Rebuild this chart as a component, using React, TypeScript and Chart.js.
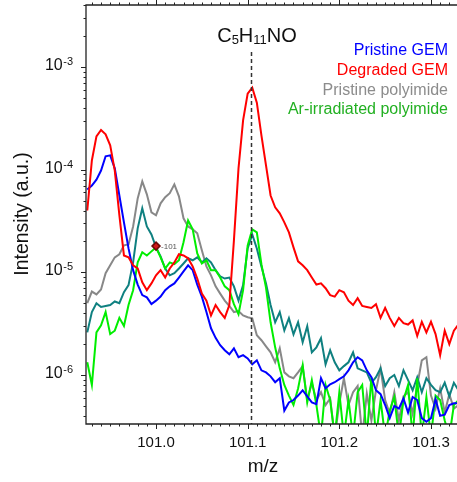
import React, { useEffect, useRef } from 'react';
import { Chart, registerables } from 'chart.js';

Chart.register(...registerables);

// m/z grid (shared by all series)
const MZ = [
  100.925, 100.930, 100.935, 100.940, 100.945, 100.950, 100.955, 100.960, 100.965, 100.970,
  100.975, 100.980, 100.985, 100.990, 100.995, 101.000, 101.005, 101.010, 101.015, 101.020,
  101.025, 101.030, 101.035, 101.040, 101.045, 101.050, 101.055, 101.060, 101.065, 101.070,
  101.075, 101.080, 101.085, 101.090, 101.095, 101.100, 101.105, 101.110, 101.115, 101.120,
  101.125, 101.130, 101.135, 101.140, 101.145, 101.150, 101.155, 101.160, 101.165, 101.170,
  101.175, 101.180, 101.185, 101.190, 101.195, 101.200, 101.205, 101.210, 101.215, 101.220,
  101.225, 101.230, 101.235, 101.240, 101.245, 101.250, 101.255, 101.260, 101.265, 101.270,
  101.275, 101.280, 101.285, 101.290, 101.295, 101.300, 101.305, 101.310, 101.315, 101.320,
  101.325, 101.330,
];

const PRISTINE_GEM = [
  6.4e-5, 7.0e-5, 8.0e-5, 9.8e-5, 1.35e-4, 1.38e-4, 1.03e-4, 5.6e-5, 3.07e-5, 1.71e-5,
  1.05e-5, 7.6e-6, 6.0e-6, 5.7e-6, 4.9e-6, 5.3e-6, 5.8e-6, 6.7e-6, 7.3e-6, 7.8e-6,
  8.9e-6, 1.02e-5, 1.17e-5, 1.05e-5, 7.6e-6, 5.8e-6, 4.1e-6, 2.85e-6, 2.3e-6, 1.95e-6,
  1.74e-6, 1.59e-6, 1.82e-6, 1.49e-6, 1.56e-6, 1.45e-6, 1.27e-6, 1.39e-6, 1.11e-6, 1.06e-6,
  9.7e-7, 8.5e-7, 9.3e-7, 4.5e-7, 5.4e-7, 5.7e-7, 6.3e-7, 7.1e-7, 6.2e-7, 5.4e-7,
  5.2e-7, 9.3e-7, 7.4e-7, 8.1e-7, 8.5e-7, 9.1e-7, 9.7e-7, 1.11e-6, 1.33e-6, 1.49e-6,
  1.39e-6, 1.11e-6, 9.5e-7, 7.1e-7, 6.5e-7, 5.1e-7, 3.8e-7, 5.0e-7, 4.7e-7, 5.9e-7,
  4.3e-7, 6.1e-7, 5.7e-7, 3.8e-7, 3.5e-7, 3.8e-7, 5.8e-7, 4.0e-7, 4.1e-7, 5.1e-7,
  5.3e-7, 5.3e-7,
];

const DEGRADED_GEM = [
  4.0e-5, 1.23e-4, 2.11e-4, 2.44e-4, 2.21e-4, 1.73e-4, 9.8e-5, 3.6e-5, 1.46e-5, 1.40e-5,
  1.17e-5, 1.09e-5, 8.0e-6, 6.7e-6, 7.8e-6, 9.35e-6, 1.05e-5, 8.9e-6, 1.09e-5, 1.25e-5,
  1.50e-5, 1.46e-5, 1.37e-5, 1.14e-5, 8.7e-6, 6.2e-6, 5.3e-6, 3.8e-6, 4.8e-6, 4.1e-6,
  3.6e-6, 4.8e-6, 2.05e-5, 1.03e-4, 3.02e-4, 5.5e-4, 6.3e-4, 4.5e-4, 2.16e-4, 1.10e-4,
  5.6e-5, 4.3e-5, 3.75e-5, 3.07e-5, 2.45e-5, 1.75e-5, 1.28e-5, 1.17e-5, 1.05e-5, 8.9e-6,
  7.6e-6, 7.8e-6, 7.0e-6, 6.0e-6, 5.8e-6, 6.7e-6, 6.4e-6, 5.3e-6, 4.8e-6, 5.6e-6,
  4.7e-6, 4.6e-6, 4.5e-6, 4.9e-6, 3.6e-6, 4.5e-6, 3.6e-6, 3.0e-6, 3.6e-6, 3.2e-6,
  3.1e-6, 3.4e-6, 2.4e-6, 3.3e-6, 2.6e-6, 3.3e-6, 2.5e-6, 1.56e-6, 2.7e-6, 2.0e-6,
  2.7e-6, 3.1e-6,
];

const PRISTINE_PI = [
  5.0e-6, 6.5e-6, 6.1e-6, 6.8e-6, 9.8e-6, 1.17e-5, 1.40e-5, 1.50e-5, 1.83e-5, 1.87e-5,
  2.8e-5, 5.25e-5, 7.7e-5, 5.75e-5, 3.84e-5, 3.6e-5, 4.7e-5, 5.4e-5, 5.9e-5, 7.2e-5,
  5.5e-5, 3.36e-5, 2.8e-5, 2.62e-5, 2.4e-5, 1.64e-5, 1.14e-5, 9.35e-6, 7.3e-6, 6.2e-6,
  5.3e-6, 4.7e-6, 4.1e-6, 4.2e-6, 3.8e-6, 3.65e-6, 3.57e-6, 2.44e-6, 2.18e-6, 1.9e-6,
  1.66e-6, 1.33e-6, 1.82e-6, 1.06e-6, 9.7e-7, 9.3e-7, 1.06e-6, 1.22e-6, 5.7e-7, 8.3e-7,
  5.7e-7, 6.8e-7, 5.1e-7, 5.9e-7, 2.5e-7, 5.3e-7, 9.3e-7, 5.1e-7, 6.8e-7, 7.8e-7,
  2.5e-7, 6.6e-7, 3.6e-7, 7.1e-7, 1.16e-6, 5.7e-7, 4.2e-7, 6.8e-7, 3.6e-7, 6.2e-7,
  6.8e-7, 4.2e-7, 7.9e-7, 1.39e-6, 1.49e-6, 6.3e-7, 4.7e-7, 7.4e-7, 4.3e-7, 6.5e-7,
  4.7e-7, 5.1e-7,
];

const AR_IRRADIATED_PI = [
  1.33e-6, 8.0e-7, 2.6e-6, 3.05e-6, 4.1e-6, 2.5e-6, 2.7e-6, 3.6e-6, 3.0e-6, 4.8e-6,
  6.7e-6, 1.25e-5, 1.57e-5, 1.46e-5, 1.6e-5, 1.75e-5, 1.40e-5, 1.09e-5, 1.25e-5, 1.2e-5,
  1.31e-5, 1.96e-5, 3.2e-5, 2.62e-5, 1.53e-5, 1.22e-5, 1.31e-5, 1.05e-5, 1.05e-5, 8.9e-6,
  7.3e-6, 6.7e-6, 4.9e-6, 3.9e-6, 6.7e-6, 1.83e-5, 2.62e-5, 2.45e-5, 1.2e-5, 7.1e-6,
  3.26e-6, 1.86e-6, 1.16e-6, 8.0e-7, 6.3e-7, 5.1e-7, 7.4e-7, 1.24e-6, 5.4e-7, 8.9e-7,
  5.1e-7, 2.5e-7, 8.0e-7, 5.7e-7, 2.5e-7, 6.8e-7, 2.5e-7, 5.7e-7, 2.5e-7, 6.8e-7,
  8.0e-7, 2.5e-7, 9.5e-7, 2.5e-7, 5.7e-7, 2.5e-7, 4.5e-7, 6.1e-7, 2.5e-7, 5.7e-7,
  8.0e-7, 2.5e-7, 9.3e-7, 2.5e-7, 6.1e-7, 2.5e-7, 6.3e-7, 5.7e-7, 3.6e-7, 2.5e-7,
  5.1e-7, 5.7e-7,
];

// unlabeled teal trace
const TEAL_SERIES = [
  2.6e-6, 4.1e-6, 5.0e-6, 4.6e-6, 4.7e-6, 4.8e-6, 5.2e-6, 5.0e-6, 6.4e-6, 7.5e-6,
  1.25e-5, 2.68e-5, 4.2e-5, 2.8e-5, 2.34e-5, 1.75e-5, 1.43e-5, 1.09e-5, 9.35e-6, 9.8e-6,
  1.09e-5, 1.22e-5, 1.37e-5, 1.31e-5, 1.40e-5, 1.25e-5, 1.37e-5, 1.25e-5, 1.05e-5, 9.15e-6,
  8.7e-6, 8.9e-6, 7.3e-6, 5.3e-6, 7.5e-6, 1.71e-5, 2.34e-5, 1.71e-5, 1.14e-5, 7.8e-6,
  4.8e-6, 3.26e-6, 4.1e-6, 2.72e-6, 3.57e-6, 2.49e-6, 3.26e-6, 2.08e-6, 2.98e-6, 1.66e-6,
  1.86e-6, 2.28e-6, 1.27e-6, 1.74e-6, 1.33e-6, 1.11e-6, 1.22e-6, 1.33e-6, 1.66e-6, 1.16e-6,
  1.11e-6, 1.06e-6, 8.4e-7, 9.5e-7, 1.16e-6, 7.8e-7, 9.3e-7, 1.0e-6, 7.8e-7, 1.11e-6,
  8.9e-7, 7.1e-7, 9.5e-7, 6.8e-7, 9.3e-7, 8.0e-7, 7.1e-7, 6.8e-7, 8.4e-7, 6.2e-7,
  8.4e-7, 7.1e-7,
];

const SERIES_NAMES = ['Pristine GEM', 'Degraded GEM', 'Pristine polyimide', 'Ar-irradiated polyimide'];
const LEGEND_COLORS = ['#0000ff', '#ff0000', '#8c8c8c', '#22b022'];

const X_TICKS = [101.0, 101.1, 101.2, 101.3];
const X_TICK_LABELS = ['101.0', '101.1', '101.2', '101.3'];
const Y_TICKS = [1e-6, 1e-5, 1e-4, 1e-3];
const Y_TICK_EXPONENTS = ['-6', '-5', '-4', '-3'];

const X_MIN = 100.9236;
const X_MAX = 101.3284;
const Y_MIN = 3.33e-7;
const Y_MAX = 4.02e-3;

const PEAK_MZ = [101.104];
const MARK_X = [101.0];
const MARK_Y = [1.8e-5];
const MARK_LABEL = ['101'];

const FONT = '"Liberation Sans", Arial, sans-serif';

const toXY = (ys: number[]) => ys.map((y, i) => ({ x: MZ[i], y }));

const decorPlugin = {
  id: 'decor',
  afterDatasetsDraw(chart: any) {
    const ctx: CanvasRenderingContext2D = chart.ctx;
    const { left, right, top, bottom } = chart.chartArea;
    const xs = chart.scales.x;
    const ys = chart.scales.y;
    ctx.save();

    // dashed marker line
    const dx = Math.round(xs.getPixelForValue(PEAK_MZ[0])) + 0.5;
    ctx.strokeStyle = '#333';
    ctx.lineWidth = 1.5;
    ctx.setLineDash([4, 3]);
    ctx.beginPath();
    ctx.moveTo(dx, 52);
    ctx.lineTo(dx, bottom);
    ctx.stroke();
    ctx.setLineDash([]);

    // frame
    ctx.strokeStyle = '#222';
    ctx.lineWidth = 1.3;
    ctx.beginPath();
    ctx.moveTo(right, top);
    ctx.lineTo(left, top);
    ctx.lineTo(left, bottom);
    ctx.lineTo(right, bottom);
    ctx.stroke();

    // x ticks (top and bottom)
    ctx.lineWidth = 1;
    for (let k = 9293; k <= 10133; k++) {
      const v = k / 100;
      if (v < X_MIN || v > X_MAX) continue;
      const px = Math.round(xs.getPixelForValue(v)) + 0.5;
      const major = k % 10 === 0;
      const len = major ? 5 : 2.5;
      ctx.beginPath();
      ctx.moveTo(px, bottom);
      ctx.lineTo(px, bottom + len);
      ctx.moveTo(px, top);
      ctx.lineTo(px, top - len);
      ctx.stroke();
    }
    // y ticks (left)
    for (let d = -7; d <= -2; d++) {
      for (let m = 1; m <= 9; m++) {
        const v = m * Math.pow(10, d);
        if (v < Y_MIN || v > Y_MAX) continue;
        const py = Math.round(ys.getPixelForValue(v)) + 0.5;
        const len = m === 1 ? 5 : 2.5;
        ctx.beginPath();
        ctx.moveTo(left, py);
        ctx.lineTo(left - len, py);
        ctx.stroke();
      }
    }

    ctx.fillStyle = '#111';
    // x tick labels
    ctx.font = `15px ${FONT}`;
    ctx.textAlign = 'center';
    ctx.textBaseline = 'alphabetic';
    X_TICKS.forEach((v, i) => {
      ctx.fillText(X_TICK_LABELS[i], xs.getPixelForValue(v), 447);
    });
    // y tick labels 10^n
    Y_TICKS.forEach((v, i) => {
      const py = ys.getPixelForValue(v);
      ctx.font = `11px ${FONT}`;
      const sw = ctx.measureText(Y_TICK_EXPONENTS[i]).width;
      ctx.textAlign = 'right';
      ctx.fillText(Y_TICK_EXPONENTS[i], 73, py - 2);
      ctx.font = `16px ${FONT}`;
      ctx.fillText('10', 73 - sw - 0.5, py + 3);
    });

    // axis titles
    ctx.font = `19px ${FONT}`;
    ctx.textAlign = 'center';
    ctx.fillText('m/z', 263, 472);
    ctx.save();
    ctx.translate(28, 214);
    ctx.rotate(-Math.PI / 2);
    ctx.font = `19.5px ${FONT}`;
    ctx.fillText('Intensity (a.u.)', 0, 0);
    ctx.restore();

    // legend text
    ctx.font = `16px ${FONT}`;
    ctx.textAlign = 'right';
    const baselines = [55, 75, 94.5, 114];
    SERIES_NAMES.forEach((name, i) => {
      ctx.fillStyle = LEGEND_COLORS[i];
      ctx.fillText(name, 448, baselines[i]);
    });

    // formula annotation C5H11NO
    const parts: [string, boolean][] = [['C', false], ['5', true], ['H', false], ['11', true], ['NO', false]];
    const widths = parts.map(([t, sub]) => {
      ctx.font = sub ? `13px ${FONT}` : `20px ${FONT}`;
      return ctx.measureText(t).width;
    });
    const total = widths.reduce((a, b) => a + b, 0);
    let cx = 257 - total / 2;
    ctx.fillStyle = '#111';
    ctx.textAlign = 'left';
    parts.forEach(([t, sub], i) => {
      ctx.font = sub ? `13px ${FONT}` : `20px ${FONT}`;
      ctx.fillText(t, cx, sub ? 44 : 41.5);
      cx += widths[i];
    });

    // marker label
    const mx = xs.getPixelForValue(MARK_X[0]);
    const my = ys.getPixelForValue(MARK_Y[0]);
    ctx.font = `8px ${FONT}`;
    ctx.fillStyle = '#555';
    ctx.textAlign = 'left';
    ctx.fillText('-' + MARK_LABEL[0], mx + 5, my + 3);

    ctx.restore();
  },
};

export default function App() {
  const canvasRef = useRef<HTMLCanvasElement | null>(null);

  useEffect(() => {
    const canvas = canvasRef.current;
    if (!canvas) return;
    const lineDs = (label: string, data: number[], color: string, order: number) => ({
      label,
      data: toXY(data),
      borderColor: color,
      backgroundColor: color,
      borderWidth: 2,
      pointRadius: 0,
      tension: 0,
      fill: false,
      order,
    });
    const chart = new Chart(canvas, {
      type: 'line',
      data: {
        datasets: [
          {
            label: 'marker',
            data: MARK_X.map((x, i) => ({ x, y: MARK_Y[i] })),
            showLine: false,
            pointStyle: 'rectRot',
            pointRadius: 4,
            pointBorderWidth: 1.5,
            pointBorderColor: '#6a0a0a',
            pointBackgroundColor: '#d01818',
            order: 0,
          } as any,
          lineDs(SERIES_NAMES[1], DEGRADED_GEM, '#ff0000', 1),
          lineDs(SERIES_NAMES[0], PRISTINE_GEM, '#0000ff', 2),
          lineDs(SERIES_NAMES[3], AR_IRRADIATED_PI, '#00ee00', 3),
          lineDs('teal', TEAL_SERIES, '#0f8080', 4),
          lineDs(SERIES_NAMES[2], PRISTINE_PI, '#888888', 5),
        ],
      },
      options: {
        responsive: false,
        animation: false,
        devicePixelRatio: 1,
        layout: { autoPadding: false, padding: { left: 86, top: 5, right: 0, bottom: 58 } },
        plugins: { legend: { display: false }, tooltip: { enabled: false } },
        scales: {
          x: { type: 'linear', min: X_MIN, max: X_MAX, display: false },
          y: { type: 'logarithmic', min: Y_MIN, max: Y_MAX, display: false },
        },
      },
      plugins: [decorPlugin],
    });
    return () => chart.destroy();
  }, []);

  return (
    <div style={{ position: 'fixed', left: 0, top: 0, width: 457, height: 482, background: '#fff' }}>
      <canvas ref={canvasRef} width={457} height={482} style={{ display: 'block' }} />
    </div>
  );
}
